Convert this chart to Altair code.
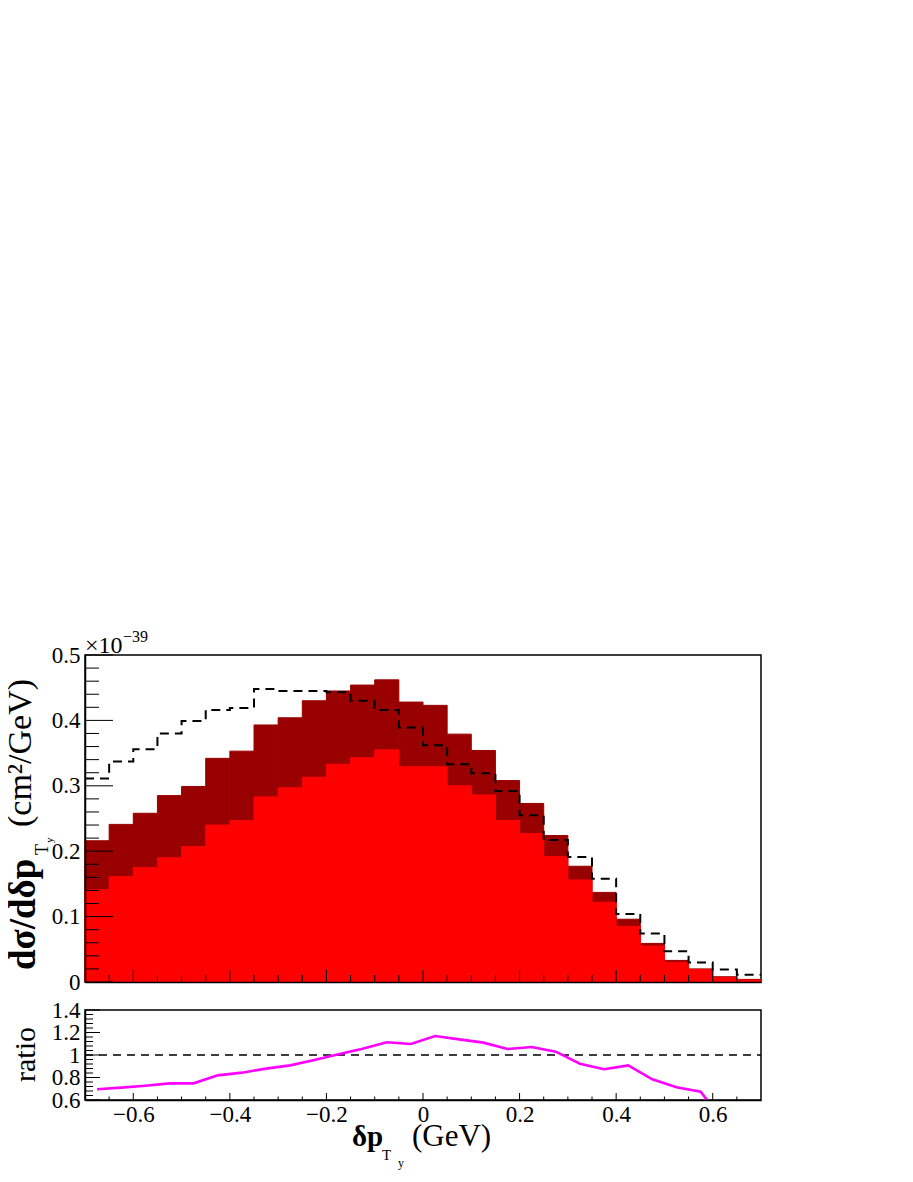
import altair as alt
import pandas as pd

# ---------------- data ----------------
bin_lo = [-0.70, -0.65, -0.60, -0.55, -0.50, -0.45, -0.40, -0.35, -0.30, -0.25,
          -0.20, -0.15, -0.10, -0.05, 0.00, 0.05, 0.10, 0.15, 0.20, 0.25,
          0.30, 0.35, 0.40, 0.45, 0.50, 0.55, 0.60, 0.65]
bin_hi = [-0.65, -0.60, -0.55, -0.50, -0.45, -0.40, -0.35, -0.30, -0.25, -0.20,
          -0.15, -0.10, -0.05, 0.00, 0.05, 0.10, 0.15, 0.20, 0.25, 0.30,
          0.35, 0.40, 0.45, 0.50, 0.55, 0.60, 0.65, 0.70]
bin_center = [-0.675, -0.625, -0.575, -0.525, -0.475, -0.425, -0.375, -0.325, -0.275, -0.225,
              -0.175, -0.125, -0.075, -0.025, 0.025, 0.075, 0.125, 0.175, 0.225, 0.275,
              0.325, 0.375, 0.425, 0.475, 0.525, 0.575, 0.625, 0.675]

# stacked total (dark red) and the red component, x 1e-39 cm^2/GeV
total_xsec = [0.216, 0.241, 0.258, 0.285, 0.299, 0.342, 0.353, 0.393, 0.404, 0.430,
              0.445, 0.454, 0.462, 0.428, 0.423, 0.379, 0.354, 0.308, 0.273, 0.224,
              0.177, 0.137, 0.096, 0.059, 0.033, 0.020, 0.008, 0.004]
red_xsec = [0.141, 0.161, 0.175, 0.190, 0.207, 0.240, 0.247, 0.283, 0.297, 0.313,
            0.333, 0.343, 0.355, 0.329, 0.329, 0.300, 0.286, 0.247, 0.227, 0.192,
            0.156, 0.122, 0.085, 0.055, 0.030, 0.019, 0.007, 0.003]
dashed_xsec = [0.311, 0.337, 0.356, 0.380, 0.399, 0.416, 0.419, 0.448, 0.445, 0.445,
               0.443, 0.430, 0.416, 0.389, 0.362, 0.333, 0.319, 0.292, 0.255, 0.217,
               0.191, 0.158, 0.104, 0.074, 0.047, 0.030, 0.019, 0.011]
ratio_val = [0.695, 0.710, 0.727, 0.748, 0.748, 0.819, 0.843, 0.879, 0.908, 0.956,
             1.006, 1.056, 1.113, 1.098, 1.169, 1.139, 1.110, 1.053, 1.071, 1.030,
             0.923, 0.873, 0.908, 0.784, 0.713, 0.674, 0.400, 0.360]

x_major = [-0.6, -0.4, -0.2, 0.0, 0.2, 0.4, 0.6]
x_minor = [-0.65, -0.55, -0.5, -0.45, -0.35, -0.3, -0.25, -0.15, -0.1, -0.05,
           0.05, 0.1, 0.15, 0.25, 0.3, 0.35, 0.45, 0.5, 0.55, 0.65]
y_major = [0.0, 0.1, 0.2, 0.3, 0.4, 0.5]
y_minor = [0.02, 0.04, 0.06, 0.08, 0.12, 0.14, 0.16, 0.18, 0.22, 0.24, 0.26, 0.28,
           0.32, 0.34, 0.36, 0.38, 0.42, 0.44, 0.46, 0.48]
r_major = [0.6, 0.8, 1.0, 1.2, 1.4]
r_minor = [0.64, 0.68, 0.72, 0.76, 0.84, 0.88, 0.92, 0.96, 1.04, 1.08, 1.12, 1.16,
           1.24, 1.28, 1.32, 1.36]

# ---------------- layout constants ----------------
W, H1, H2 = 676, 327, 90
FONT = "Liberation Serif, Tinos, Times New Roman, DejaVu Serif, serif"
LBL = 23

hist = pd.DataFrame({"lo": bin_lo, "hi": bin_hi, "total": total_xsec, "red": red_xsec})
step = pd.DataFrame({"x": bin_lo + [bin_hi[-1]], "y": dashed_xsec + [dashed_xsec[-1]]})
ratio = pd.DataFrame({"c": bin_center, "r": ratio_val})

xs = alt.Scale(domain=[-0.7, 0.7], nice=False, zero=False)
ys = alt.Scale(domain=[0, 0.5], nice=False)
rs = alt.Scale(domain=[0.6, 1.4], nice=False, zero=False)

common = dict(ticks=False, tickSize=0, domain=True, domainColor="black", domainWidth=1.5,
              grid=False, title=None, labelFont=FONT, labelFontSize=LBL, labelColor="black",
              labelOverlap=False, labelFlush=False, zindex=1)

xax_top = alt.Axis(labels=False, **common)
yax_top = alt.Axis(values=y_major, labelPadding=5,
                   labelExpr="datum.value == 0 ? '0' : format(datum.value, '.1f')", **common)
xax_bot = alt.Axis(values=x_major, labelPadding=3,
                   labelExpr="abs(datum.value) < 1e-9 ? '0' : format(datum.value, '.1f')", **common)
yax_bot = alt.Axis(values=r_major, labelPadding=5,
                   labelExpr="abs(datum.value - 1) < 1e-9 ? '1' : format(datum.value, '.1f')", **common)


def text_layer(s, x, y, size, bold=False, angle=0):
    return alt.Chart(pd.DataFrame({"s": [s]})).mark_text(
        font=FONT, fontSize=size, fontWeight="bold" if bold else "normal",
        align="left", baseline="alphabetic", angle=angle, color="black"
    ).encode(x=alt.value(x), y=alt.value(y), text="s:N")


def ticks_x(vals, scale, axis, h, length):
    return alt.Chart(pd.DataFrame({"t": vals})).mark_rule(color="black", strokeWidth=1).encode(
        x=alt.X("t:Q", scale=scale, axis=axis), y=alt.value(h), y2=alt.value(h - length))


def ticks_y(vals, scale, axis, length):
    return alt.Chart(pd.DataFrame({"t": vals})).mark_rule(color="black", strokeWidth=1).encode(
        y=alt.Y("t:Q", scale=scale, axis=axis), x=alt.value(0), x2=alt.value(length))


# ---------------- top panel ----------------
dark = alt.Chart(hist).mark_rect(color="#990000", stroke="#990000", strokeWidth=1).encode(
    x=alt.X("lo:Q", scale=xs, axis=xax_top), x2="hi:Q",
    y=alt.Y("total:Q", scale=ys, axis=yax_top), y2=alt.datum(0))
red = alt.Chart(hist).mark_rect(color="#ff0000", stroke="#ff0000", strokeWidth=1).encode(
    x=alt.X("lo:Q", scale=xs, axis=xax_top), x2="hi:Q",
    y=alt.Y("red:Q", scale=ys, axis=yax_top), y2=alt.datum(0))
dashed = alt.Chart(step).mark_line(interpolate="step-after", color="black", strokeWidth=2,
                                   strokeDash=[9, 6]).encode(
    x=alt.X("x:Q", scale=xs, axis=xax_top), y=alt.Y("y:Q", scale=ys, axis=yax_top))

top = alt.layer(
    dark, red, dashed,
    ticks_x(x_major, xs, xax_top, H1, 12),
    ticks_x(x_minor, xs, xax_top, H1, 7),
    ticks_y(y_major, ys, yax_top, 28),
    ticks_y(y_minor, ys, yax_top, 14),
    text_layer("×10", 0, -2, 24),
    text_layer("−39", 38, -13, 16),
    text_layer("dσ/dδp", -50, 315, 37, bold=True, angle=270),
    text_layer("T", -37, 200, 18, angle=270),
    text_layer("y", -32, 188, 11, angle=270),
    text_layer("(cm²/GeV)", -54, 172, 34, angle=270),
).properties(width=W, height=H1)

# ---------------- ratio panel ----------------
one = alt.Chart(pd.DataFrame({"x": [-0.7], "x2": [0.7], "y": [1.0]})).mark_rule(
    color="black", strokeWidth=1.3, strokeDash=[8, 6]).encode(
    x=alt.X("x:Q", scale=xs, axis=xax_bot), x2="x2:Q", y=alt.Y("y:Q", scale=rs, axis=yax_bot))
line = alt.Chart(ratio).mark_line(color="#ff00ff", strokeWidth=2.6, clip=True).encode(
    x=alt.X("c:Q", scale=xs, axis=xax_bot), y=alt.Y("r:Q", scale=rs, axis=yax_bot))

bot = alt.layer(
    one, line,
    ticks_x(x_major, xs, xax_bot, H2, 7),
    ticks_x(x_minor, xs, xax_bot, H2, 3.5),
    ticks_y(r_major, rs, yax_bot, 15),
    ticks_y(r_minor, rs, yax_bot, 8),
    text_layer("ratio", -50, 72, 30, angle=270),
    text_layer("δp", 267, 136, 29, bold=True),
    text_layer("T", 297, 150, 15),
    text_layer("y", 313, 157, 12),
    text_layer("(GeV)", 327, 136, 31),
).properties(width=W, height=H2)

chart = alt.vconcat(top, bot, spacing=3).properties(
    padding={"left": -5, "top": 620, "right": 10, "bottom": 0},
    background="white",
).configure_view(stroke="black", strokeWidth=1.5)

chart.save("out.html", embed_options={"renderer": "svg", "actions": False})
